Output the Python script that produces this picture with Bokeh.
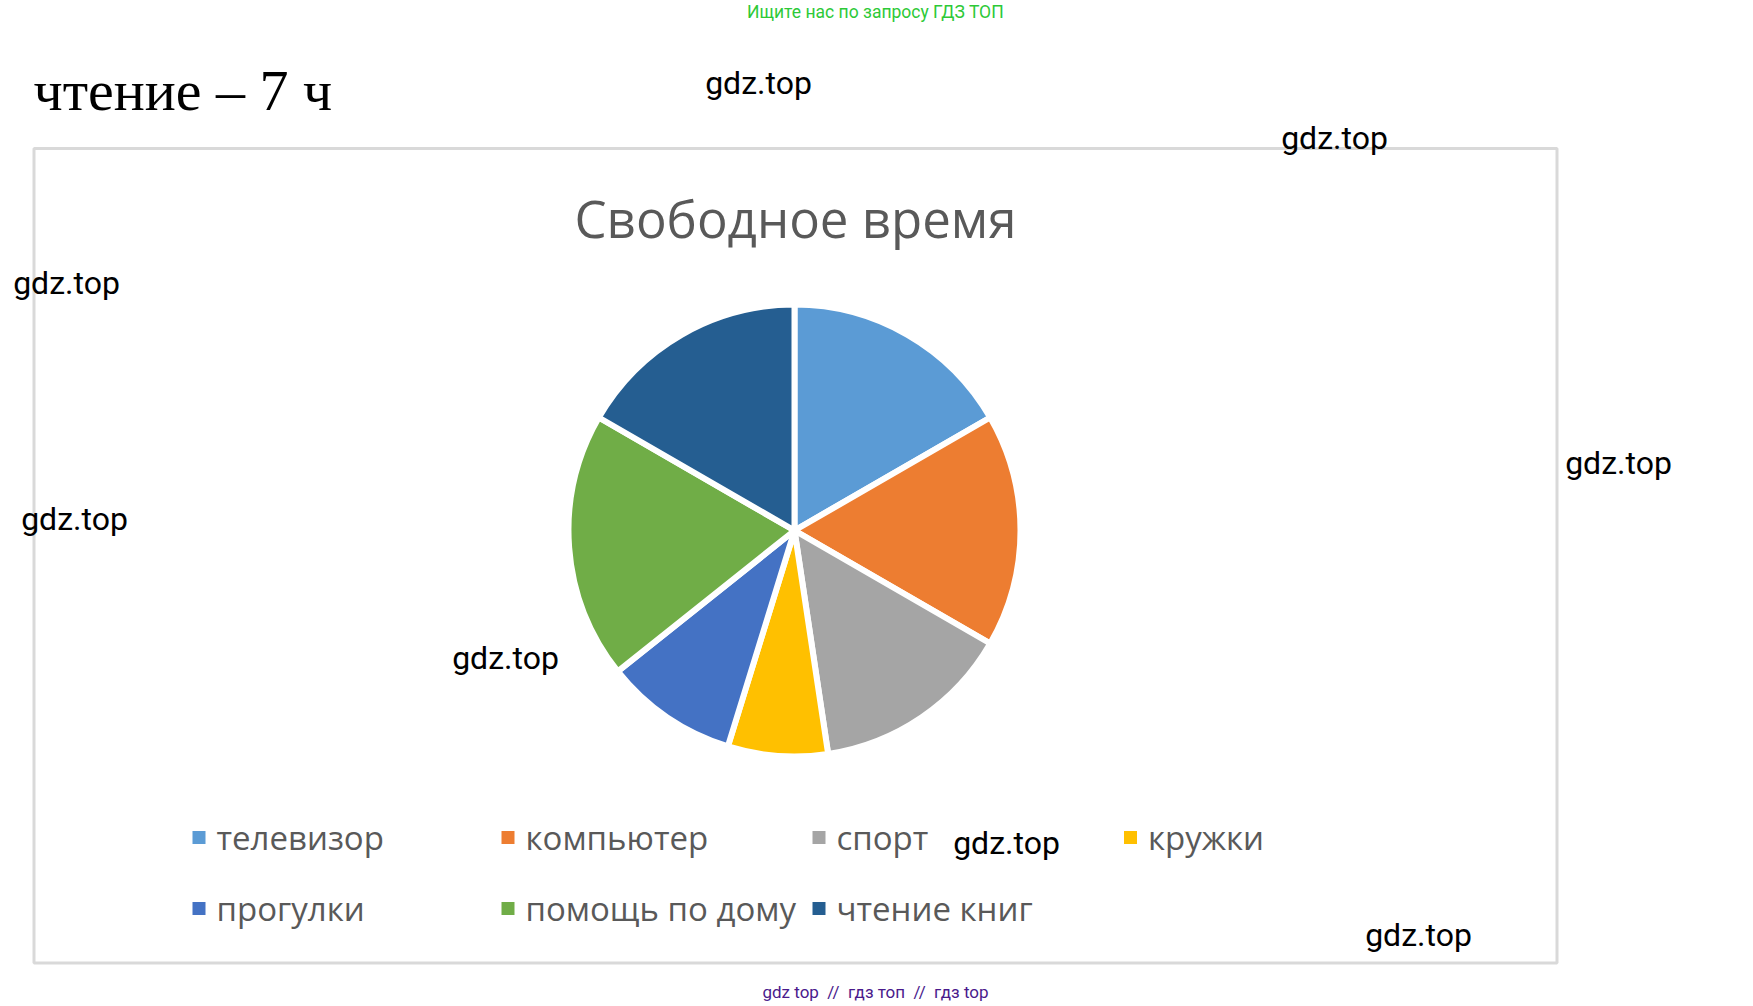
import math
from bokeh.plotting import figure
from bokeh.models import Range1d, ColumnDataSource
from bokeh.core.properties import value
from bokeh.embed import file_html
from bokeh.resources import INLINE

# ---- data ----
categories = ["телевизор", "компьютер", "спорт", "кружки", "прогулки", "помощь по дому", "чтение книг"]
hours = [7, 7, 6, 3, 4, 8, 7]
colors = ["#5B9BD5", "#ED7D31", "#A5A5A5", "#FFC000", "#4472C4", "#70AD47", "#255E91"]
title_text = "Свободное время"
heading_text = "чтение – 7 ч"
top_note = "Ищите нас по запросу ГДЗ ТОП"
bottom_note = "gdz top\u00a0\u00a0//\u00a0\u00a0гдз топ\u00a0\u00a0//\u00a0\u00a0гдз top"
watermark = "gdz.top"

W, H = 1745, 1004
PAGE_H = 1006


def Y(py):
    return PAGE_H - py


p = figure(width=W, height=H, output_backend="svg", toolbar_location=None,
           x_range=Range1d(0, W), y_range=Range1d(PAGE_H - H, PAGE_H),
           min_border=0)
p.axis.visible = False
p.grid.visible = False
p.outline_line_color = None
p.background_fill_color = "white"
p.border_fill_color = "white"

# frame of chart area
p.quad(left=[33.5], right=[1556.5], top=[Y(148)], bottom=[Y(962.5)],
       fill_color=None, line_color="#d9d9d9", line_width=3)

# heading
p.text(x=[33], y=[Y(90)], text=[heading_text], text_font=value("Liberation Serif"),
       text_font_size="58px", text_color="black", text_baseline="middle", text_align="left")

# top/bottom notes
p.text(x=[875], y=[Y(11)], text=[top_note], text_font=value("Roboto"),
       text_font_size="17.5px", text_color="#2dc937", text_baseline="middle", text_align="center")
p.text(x=[875], y=[Y(991)], text=[bottom_note], text_font=value("Roboto"),
       text_font_size="17px", text_color="#4a1a8c", text_baseline="middle", text_align="center")

# title
p.text(x=[795], y=[Y(217)], text=[title_text], text_font=value("Open Sans"),
       text_font_size="51px", text_color="#595959", text_baseline="middle", text_align="center")

# pie
total = float(sum(hours))
starts, ends = [], []
cum = 0.0
for h in hours:
    starts.append(math.pi / 2 - 2 * math.pi * cum / total)
    cum += h
    ends.append(math.pi / 2 - 2 * math.pi * cum / total)
src = ColumnDataSource(dict(cat=categories, hours=hours, color=colors, start=starts, end=ends))
p.wedge(x=794, y=Y(530), radius=226, start_angle="start", end_angle="end", direction="clock",
        fill_color="color", line_color="white", line_width=6, source=src)

# legend
col_x = [198.5, 507.5, 818.5, 1130]
row_y = [837, 908]
lx = [col_x[i % 4] for i in range(len(categories))]
ly = [Y(row_y[i // 4]) for i in range(len(categories))]
leg = ColumnDataSource(dict(x=lx, y=ly, tx=[v + 17.5 for v in lx], cat=categories, color=colors))
p.scatter(x="x", y="y", marker="square", size=13, fill_color="color", line_color=None, source=leg)
p.text(x="tx", y="y", text="cat", text_font=value("Open Sans"), text_font_size="33px",
       text_color="#595959", text_baseline="middle", text_align="left", source=leg)

# watermarks
wm_x = [758, 1334, 66, 74, 505, 1618, 1006, 1418]
wm_y = [82, 137.5, 282, 518, 657, 462, 842, 934]
p.text(x=wm_x, y=[Y(v) for v in wm_y], text=[watermark] * len(wm_x), text_font=value("Roboto"),
       text_font_size="32px", text_color="black", text_baseline="middle", text_align="center")

open("out.html", "w").write(file_html(p, INLINE))
